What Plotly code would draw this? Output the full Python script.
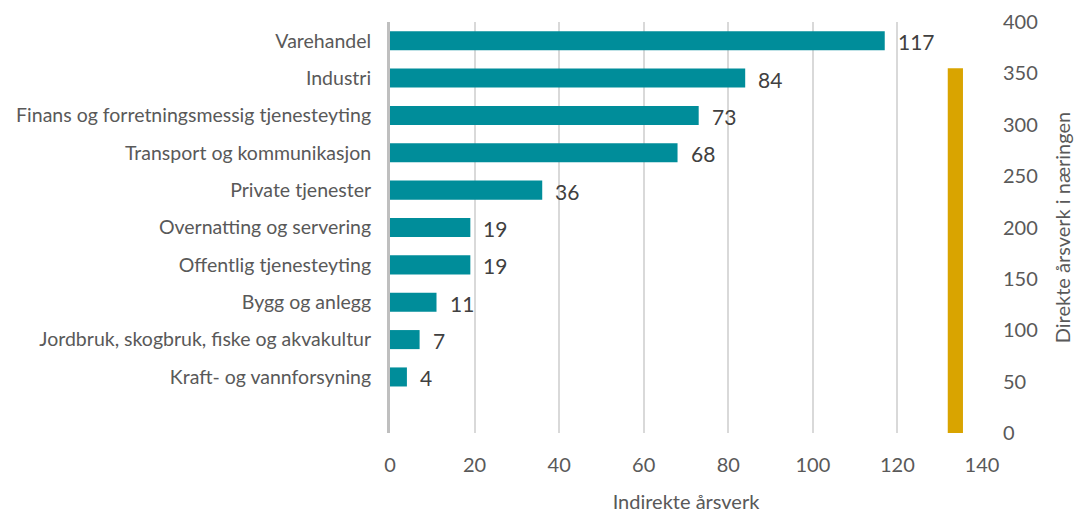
import plotly.graph_objects as go

# ---- data ----
categories = [
    "Varehandel",
    "Industri",
    "Finans og forretningsmessig tjenesteyting",
    "Transport og kommunikasjon",
    "Private tjenester",
    "Overnatting og servering",
    "Offentlig tjenesteyting",
    "Bygg og anlegg",
    "Jordbruk, skogbruk, fiske og akvakultur",
    "Kraft- og vannforsyning",
]
indirekte = [117, 84, 73, 68, 36, 19, 19, 11, 7, 4]
direkte_label = ["Direkte"]
direkte = [355]

x_ticks = [0, 20, 40, 60, 80, 100, 120, 140]
y2_ticks = [0, 50, 100, 150, 200, 250, 300, 350, 400]

# ---- style / layout constants ----
TEAL = "#008d9a"
GOLD = "#d9a400"
TXT = "#595959"
FONT = "Lato"
GOLD_BAR_POS = 133.7   # position of the direct-jobs column on the x scale
GOLD_BAR_WIDTH = 3.6

cat_order = categories + [" "]

fig = go.Figure()
fig.add_trace(go.Bar(
    y=categories, x=indirekte, orientation="h",
    marker=dict(color=TEAL, line=dict(width=0)),
    xaxis="x", yaxis="y", showlegend=False,
))
fig.add_trace(go.Bar(
    x=[GOLD_BAR_POS] * len(direkte), y=direkte, width=[GOLD_BAR_WIDTH] * len(direkte),
    name=direkte_label[0],
    marker=dict(color=GOLD, line=dict(width=0)),
    xaxis="x", yaxis="y2", showlegend=False,
))

# value labels to the right of each bar
for cat, v in zip(categories, indirekte):
    fig.add_annotation(
        x=v, y=cat, xref="x", yref="y", text=str(v), showarrow=False,
        xanchor="left", yanchor="middle", xshift=11, yshift=-1,
        font=dict(family=FONT, size=21, color="#404040"),
    )

fig.update_layout(
    width=1074, height=513,
    margin=dict(l=390, r=92, t=22, b=80),
    plot_bgcolor="white", paper_bgcolor="white",
    font=dict(family=FONT, size=20, color=TXT),
    bargap=0.49,
    xaxis=dict(
        range=[0, 140], tickvals=x_ticks, showgrid=True, automargin=False,
        gridcolor="#d9d9d9", gridwidth=2, zeroline=False, showline=False,
        ticks="", tickfont=dict(size=20, color=TXT), ticklabelstandoff=18,
        title=dict(text="Indirekte årsverk", font=dict(size=20, color=TXT), standoff=19),
    ),
    yaxis=dict(
        type="category", categoryorder="array", categoryarray=cat_order,
        range=[10.5, -0.5], showgrid=False, zeroline=False, automargin=False,
        showline=True, linecolor="#bfbfbf", linewidth=3,
        ticks="", ticklabelstandoff=12, tickfont=dict(size=19.5, color=TXT),
    ),
    yaxis2=dict(
        overlaying="y", side="right", range=[0, 400], tickvals=y2_ticks,
        showgrid=False, zeroline=False, showline=False, ticks="", automargin=False,
        tickfont=dict(size=20, color=TXT), ticklabelstandoff=20,
        title=dict(text="Direkte årsverk i næringen", font=dict(size=20, color=TXT), standoff=20),
    ),
)

fig.write_html(
    "out.html",
    config={"displayModeBar": False},
    post_script="document.body.style.margin='0px';",
)
